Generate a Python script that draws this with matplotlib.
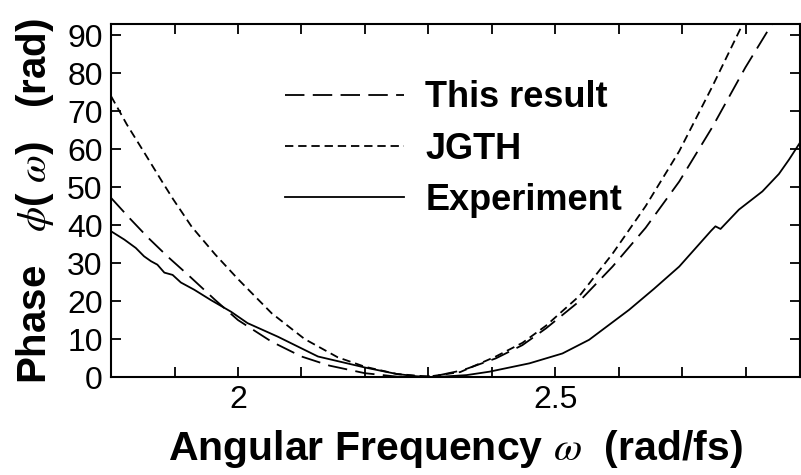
import numpy as np
import matplotlib.pyplot as plt
from matplotlib.ticker import MultipleLocator, FixedLocator

plt.rcParams['font.family'] = ['Liberation Sans', 'DejaVu Sans']
plt.rcParams['mathtext.fontset'] = 'stix'
plt.rcParams['lines.scale_dashes'] = False

# this result (long dash)
x_this = [1.80, 1.83, 1.859, 1.89, 1.922, 1.964, 2.0, 2.053, 2.10, 2.144, 2.2, 2.223, 2.25, 2.28,
          2.312, 2.354, 2.406, 2.448, 2.485, 2.538, 2.59, 2.642, 2.695, 2.747, 2.799, 2.841]
y_this = [47.2, 41.7, 36.6, 31.6, 26.8, 20.3, 15.0, 9.3, 5.4, 3.0, 1.0, 0.6, 0.1, 0.0,
          0.3, 1.8, 4.9, 8.4, 12.8, 20.0, 29.1, 39.3, 51.5, 65.8, 81.5, 93.0]

# JGTH (short dash)
x_jgth = [1.80, 1.825, 1.851, 1.880, 1.898, 1.927, 1.964, 2.0, 2.053, 2.105, 2.157, 2.2,
          2.25, 2.30, 2.35, 2.406, 2.448, 2.485, 2.538, 2.59, 2.642, 2.695, 2.747, 2.795]
y_jgth = [74.0, 66.5, 59.5, 51.6, 46.8, 39.6, 32.3, 25.8, 16.8, 10.0, 5.2, 2.7,
          0.8, 0.1, 1.3, 5.4, 9.0, 13.5, 21.4, 32.5, 45.0, 59.5, 76.5, 93.0]

# experiment (solid)
x_exp = [1.80, 1.821, 1.839, 1.852, 1.863, 1.873, 1.884, 1.897, 1.910, 1.931, 1.957,
         1.989, 2.015, 2.063, 2.126, 2.2, 2.25, 2.281, 2.30, 2.322, 2.36, 2.396, 2.459,
         2.511, 2.553, 2.616, 2.655, 2.695, 2.720, 2.745, 2.752, 2.760, 2.789, 2.826, 2.852,
         2.868, 2.885]
y_exp = [38.4, 36.2, 34.0, 31.8, 30.5, 29.6, 27.5, 26.9, 24.9, 23.0, 20.3,
         17.2, 14.2, 10.6, 5.4, 2.5, 0.8, 0.2, 0.0, 0.1, 0.5, 1.4, 3.6,
         6.2, 9.8, 17.7, 23.2, 29.1, 33.8, 38.5, 39.7, 39.0, 44.1, 48.9, 53.5,
         57.3, 61.7]

fig = plt.figure(figsize=(8.01, 4.75), dpi=100)
ax = fig.add_axes([0.1386, 0.2063, 0.86, 0.7432])

ax.plot(x_this, y_this, color='black', lw=1.3, dashes=(14, 6), label='This result')
ax.plot(x_jgth, y_jgth, color='black', lw=1.3, dashes=(6, 3.5), label='JGTH')
ax.plot(x_exp, y_exp, color='black', lw=1.3, label='Experiment')

ax.set_xlim(1.8, 2.885)
ax.set_ylim(0, 93)
ax.xaxis.set_major_locator(FixedLocator([2.0, 2.5]))
ax.xaxis.set_minor_locator(MultipleLocator(0.1))
ax.yaxis.set_major_locator(MultipleLocator(10))
ax.set_xticklabels(['2', '2.5'])
ax.tick_params(which='both', direction='in', top=True, right=True, length=7, width=1.3,
               labelsize=23, pad=6)
for s in ax.spines.values():
    s.set_linewidth(1.5)

ax.set_xlabel(r'Angular Frequency $\omega$  (rad/fs)', fontsize=29.5, fontweight='bold', labelpad=9)
ax.set_ylabel(r'Phase   $\phi$( $\omega$)   (rad)', fontsize=29, fontweight='bold', labelpad=8)

ax.legend(loc='upper left', bbox_to_anchor=(0.252, 0.84), frameon=False,
          prop={'size': 26, 'weight': 'bold'}, handlelength=3.3, handletextpad=0.6,
          labelspacing=0.45, borderaxespad=0, borderpad=0)

fig.savefig('out.png', dpi=100)
